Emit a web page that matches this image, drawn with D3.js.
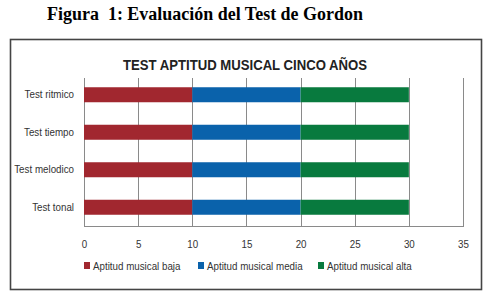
<!DOCTYPE html>
<html>
<head>
<meta charset="utf-8">
<script src="https://cdn.jsdelivr.net/npm/d3@7"></script>
<style>
    body { margin: 0; background: #fff; }
    text { font-family: "Liberation Sans", Arial, sans-serif; fill: #333; }
</style>
</head>
<body>
<svg width="486" height="295"></svg>
<script>
// data
const tests = ["Test ritmico", "Test tiempo", "Test melodico", "Test tonal"];
const seriesNames = ["Aptitud musical baja", "Aptitud musical media", "Aptitud musical alta"];
const baja = [10, 10, 10, 10];
const media = [10, 10, 10, 10];
const alta = [10, 10, 10, 10];
const xTicks = [0, 5, 10, 15, 20, 25, 30, 35];
const colors = ["#a1272f", "#0a62ab", "#087a3e"];

const config = {
    left: 84,
    right: 463,
    top: 78,
    bottom: 226,
    narrow: 0.85
};

const rows = tests.map((t, i) => ({ test: t, baja: baja[i], media: media[i], alta: alta[i] }));
const keys = ["baja", "media", "alta"];
const stacked = d3.stack().keys(keys)(rows);

const svg = d3.select("svg");

// caption above the box
svg.append("text")
    .attr("x", 47)
    .attr("y", 20)
    .attr("textLength", 316)
    .attr("lengthAdjust", "spacingAndGlyphs")
    .style("white-space", "pre")
    .style("font-family", "'Liberation Serif', 'Times New Roman', serif")
    .style("font-weight", "bold")
    .style("font-size", "18px")
    .style("fill", "#000")
    .text("Figura  1: Evaluación del Test de Gordon");

// frame
svg.append("rect")
    .attr("x", 10.5).attr("y", 39.5)
    .attr("width", 471).attr("height", 250)
    .attr("fill", "none")
    .attr("stroke", "#444")
    .attr("stroke-width", 1.6);

svg.append("text")
    .attr("x", 123)
    .attr("y", 70)
    .attr("textLength", 244)
    .attr("lengthAdjust", "spacingAndGlyphs")
    .style("font-weight", "bold")
    .style("font-size", "15px")
    .style("fill", "#222")
    .text("TEST APTITUD MUSICAL CINCO AÑOS");

const x = d3.scaleLinear().domain([0, 35]).range([config.left, config.right]);
const y = d3.scaleBand().domain(tests).range([76, 226]).paddingInner(0.6).paddingOuter(0.3);

// grid
svg.append("g")
    .selectAll("line")
    .data(xTicks)
    .enter()
    .append("line")
    .attr("x1", d => Math.round(x(d)) + 0.5)
    .attr("x2", d => Math.round(x(d)) + 0.5)
    .attr("y1", config.top)
    .attr("y2", config.bottom)
    .attr("stroke", "#8a8a8a");

svg.append("line")
    .attr("x1", config.left).attr("x2", Math.round(x(35)) + 1)
    .attr("y1", config.bottom + 0.5).attr("y2", config.bottom + 0.5)
    .attr("stroke", "#8a8a8a");

// bars
svg.append("g")
    .selectAll("g")
    .data(stacked)
    .enter()
    .append("g")
    .attr("fill", (d, i) => colors[i])
    .selectAll("rect")
    .data(d => d)
    .enter()
    .append("rect")
    .attr("x", d => x(d[0]))
    .attr("y", d => y(d.data.test))
    .attr("width", d => x(d[1]) - x(d[0]))
    .attr("height", y.bandwidth());

// axes, no lines
const xAxis = d3.axisBottom(x).tickValues(xTicks).tickSize(0).tickPadding(14);
svg.append("g")
    .attr("transform", `translate(0, ${config.bottom})`)
    .call(xAxis)
    .call(g => g.select(".domain").remove())
    .selectAll("text")
    .attr("class", "cond")
    .style("font-size", "11.5px")
    .style("font-family", "'Liberation Sans', Arial, sans-serif")
    .attr("fill", "#333");

const yAxis = d3.axisLeft(y).tickSize(0).tickPadding(10);
svg.append("g")
    .attr("transform", `translate(${config.left}, 0)`)
    .call(yAxis)
    .call(g => g.select(".domain").remove())
    .selectAll("text")
    .attr("class", "cond")
    .style("font-size", "11.5px")
    .style("font-family", "'Liberation Sans', Arial, sans-serif")
    .attr("fill", "#333");

// legend
const legendX = [84, 198, 318];
const legend = svg.append("g")
    .selectAll("g")
    .data(seriesNames)
    .enter()
    .append("g")
    .attr("transform", (d, i) => `translate(${legendX[i]}, 262)`);

legend.append("rect")
    .attr("width", 6).attr("height", 7)
    .attr("fill", (d, i) => colors[i]);

legend.append("text")
    .attr("class", "cond")
    .attr("x", 9)
    .attr("y", 7.5)
    .style("font-size", "11.5px")
    .text(d => d);

// squeeze the labels, the original uses a narrow face
svg.selectAll("text.cond").each(function () {
    const w = this.getComputedTextLength();
    d3.select(this)
        .attr("textLength", w * config.narrow)
        .attr("lengthAdjust", "spacingAndGlyphs");
});
</script>
</body>
</html>
